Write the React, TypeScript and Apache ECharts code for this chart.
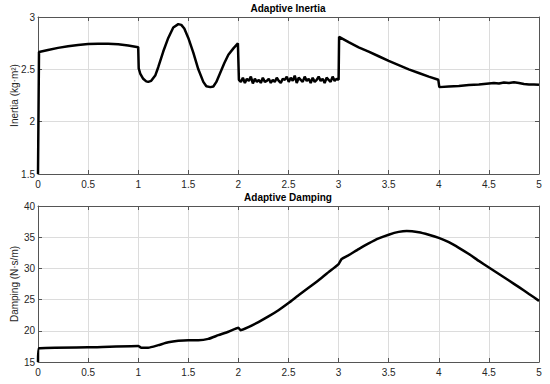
import React, { useEffect, useRef } from "react";
import * as echarts from "echarts";

const xTicks = [0, 0.5, 1, 1.5, 2, 2.5, 3, 3.5, 4, 4.5, 5];

// Adaptive inertia: smooth parts
const inertiaAT = [0, 0.01, 0.1, 0.2, 0.3, 0.4, 0.5, 0.6, 0.7, 0.8, 0.9, 1.0];
const inertiaAV = [1.5, 2.665, 2.685, 2.705, 2.72, 2.732, 2.741, 2.745, 2.745, 2.74, 2.728, 2.712];
const inertiaBT = [1.005, 1.02, 1.05, 1.08, 1.1, 1.13, 1.17, 1.2, 1.25, 1.3, 1.35, 1.4, 1.43, 1.46, 1.5, 1.55, 1.6, 1.65, 1.68, 1.72, 1.75, 1.78, 1.82, 1.86, 1.9, 1.95, 1.995];
const inertiaBV = [2.51, 2.46, 2.41, 2.385, 2.38, 2.39, 2.44, 2.52, 2.67, 2.8, 2.9, 2.932, 2.925, 2.89, 2.8, 2.66, 2.5, 2.38, 2.338, 2.33, 2.336, 2.38, 2.47, 2.56, 2.64, 2.7, 2.748];
// noisy section 2.0 - 3.0 (step 0.02)
const inertiaNoise = [2.4, 2.38, 2.42, 2.37, 2.41, 2.39, 2.43, 2.365, 2.41, 2.38, 2.4, 2.37, 2.42, 2.38, 2.39, 2.41, 2.37, 2.4, 2.38, 2.42, 2.39, 2.37, 2.41, 2.4, 2.43, 2.38, 2.42, 2.39, 2.44, 2.37, 2.42, 2.4, 2.38, 2.43, 2.39, 2.41, 2.37, 2.42, 2.38, 2.4, 2.43, 2.39, 2.41, 2.37, 2.42, 2.4, 2.38, 2.43, 2.39, 2.41, 2.4];
const inertiaCT = [3.005, 3.1, 3.2, 3.3, 3.4, 3.5, 3.6, 3.7, 3.8, 3.9, 3.995, 4.005, 4.1, 4.2, 4.3, 4.4, 4.5, 4.55, 4.6, 4.65, 4.7, 4.75, 4.8, 4.85, 4.9, 4.95, 5.0];
const inertiaCV = [2.81, 2.76, 2.71, 2.67, 2.625, 2.58, 2.54, 2.5, 2.465, 2.43, 2.4, 2.33, 2.335, 2.34, 2.35, 2.355, 2.365, 2.37, 2.365, 2.375, 2.37, 2.377, 2.37, 2.36, 2.356, 2.355, 2.352];

// Adaptive damping
const dampingT = [0, 0.01, 0.5, 1.0, 1.03, 1.1, 1.2, 1.3, 1.4, 1.5, 1.6, 1.7, 1.8, 1.9, 2.0, 2.02, 2.1, 2.2, 2.3, 2.4, 2.5, 2.6, 2.7, 2.8, 2.9, 3.0, 3.03, 3.1, 3.2, 3.3, 3.4, 3.5, 3.6, 3.68, 3.8, 3.9, 4.0, 4.1, 4.2, 4.3, 4.4, 4.5, 4.6, 4.7, 4.8, 4.9, 5.0];
const dampingV = [15, 17.2, 17.35, 17.56, 17.3, 17.3, 17.7, 18.15, 18.4, 18.5, 18.5, 18.7, 19.3, 19.85, 20.5, 20.1, 20.6, 21.4, 22.3, 23.3, 24.45, 25.7, 26.9, 28.1, 29.4, 30.7, 31.5, 32.1, 33.1, 34.0, 34.8, 35.4, 35.85, 36.0, 35.8, 35.4, 34.9, 34.2, 33.3, 32.3, 31.2, 30.15, 29.1, 28.05, 27.0, 25.9, 24.8];

const FONT = "'Liberation Sans', Arial, Helvetica, sans-serif";

export default function App() {
  const ref = useRef<HTMLDivElement>(null);
  useEffect(() => {
    if (!ref.current) return;
    const chart = echarts.init(ref.current, undefined, { renderer: "svg" });

    const inertiaData: number[][] = [];
    inertiaAT.forEach((t, i) => inertiaData.push([t, inertiaAV[i]]));
    inertiaBT.forEach((t, i) => inertiaData.push([t, inertiaBV[i]]));
    inertiaNoise.forEach((v, i) => inertiaData.push([2.005 + i * 0.0199, v]));
    inertiaCT.forEach((t, i) => inertiaData.push([t, inertiaCV[i]]));
    const dampingData = dampingT.map((t, i) => [t, dampingV[i]]);

    const axisColor = "#555";
    const gridColor = "#dcdcdc";
    const labelStyle = { color: "#262626", fontSize: 10, fontFamily: FONT };

    const xAx = (gi: number, pos: "bottom" | "top") => ({
      type: "value",
      gridIndex: gi,
      position: pos,
      min: 0,
      max: 5,
      interval: 0.5,
      axisLine: { show: true, onZero: false, lineStyle: { color: axisColor, width: 1 } },
      axisTick: { show: true, inside: true, length: 4, lineStyle: { color: axisColor } },
      axisLabel: pos === "bottom" ? { ...labelStyle, margin: 5, formatter: (v: number) => String(v) } : { show: false },
      splitLine: { show: pos === "bottom", lineStyle: { color: gridColor, width: 1 } },
    });
    const yAx = (gi: number, pos: "left" | "right", min: number, max: number, interval: number, name: string) => ({
      type: "value",
      gridIndex: gi,
      position: pos,
      min,
      max,
      interval,
      name: pos === "left" ? name : "",
      nameLocation: "middle",
      nameGap: 19,
      nameMoveOverlap: false,
      nameTextStyle: { color: "#262626", fontSize: 10, fontFamily: FONT },
      axisLine: { show: true, onZero: false, lineStyle: { color: axisColor, width: 1 } },
      axisTick: { show: true, inside: true, length: 4, lineStyle: { color: axisColor } },
      axisLabel: pos === "left" ? { ...labelStyle, margin: 3, formatter: (v: number) => String(v) } : { show: false },
      splitLine: { show: pos === "left", lineStyle: { color: gridColor, width: 1 } },
    });

    chart.setOption({
      animation: false,
      backgroundColor: "#fff",
      title: [
        { text: "Adaptive Inertia", left: 288, top: 3, padding: 0, textAlign: "center", textStyle: { fontSize: 10, fontWeight: "bold", color: "#000", fontFamily: FONT } },
        { text: "Adaptive Damping", left: 288, top: 192, padding: 0, textAlign: "center", textStyle: { fontSize: 10, fontWeight: "bold", color: "#000", fontFamily: FONT } },
      ],
      grid: [
        { left: 38, right: 11, top: 17, height: 157, containLabel: false, outerBoundsMode: "none" },
        { left: 38, right: 11, top: 206, height: 156, containLabel: false, outerBoundsMode: "none" },
      ],
      xAxis: [xAx(0, "bottom"), xAx(0, "top"), xAx(1, "bottom"), xAx(1, "top")],
      yAxis: [
        yAx(0, "left", 1.5, 3, 0.5, "Inertia (kg·m²)"),
        yAx(0, "right", 1.5, 3, 0.5, ""),
        yAx(1, "left", 15, 40, 5, "Damping (N·s/m)"),
        yAx(1, "right", 15, 40, 5, ""),
      ],
      series: [
        {
          type: "line",
          xAxisIndex: 0,
          yAxisIndex: 0,
          data: inertiaData,
          showSymbol: false,
          lineStyle: { color: "#000", width: 2.5 },
        },
        {
          type: "line",
          xAxisIndex: 2,
          yAxisIndex: 2,
          data: dampingData,
          showSymbol: false,
          smooth: 0.15,
          lineStyle: { color: "#000", width: 2.5 },
        },
      ],
    });
    return () => chart.dispose();
  }, []);
  return <div ref={ref} style={{ width: 550, height: 384, position: "absolute", left: 0, top: 0 }} />;
}
